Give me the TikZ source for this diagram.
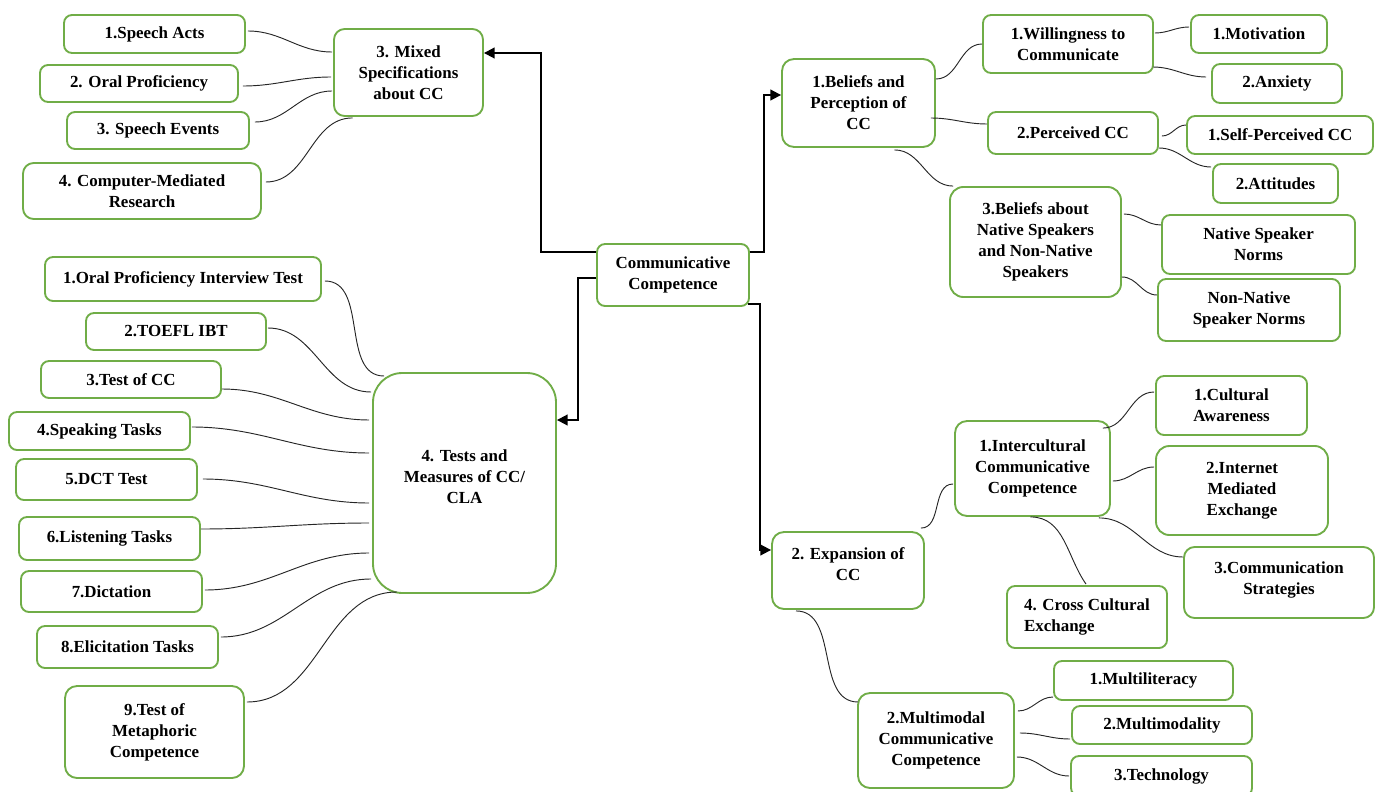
\documentclass[tikz,border=0pt]{standalone}
\usepackage{fontspec}
\setmainfont{Liberation Serif}
\usetikzlibrary{calc,arrows.meta}
\definecolor{bgreen}{RGB}{112,173,71}
\tikzset{
  box/.style={draw=bgreen, line width=1.4pt, rounded corners=6pt, fill=white, align=center, inner sep=0pt,
    font=\bfseries\fontsize{12.7}{15.75}\selectfont},
  sz/.style 2 args={minimum width=#1*0.75pt, minimum height=#2*0.75pt},
  con/.style={draw=black!85, line width=0.7pt},
  arr/.style={draw=black, line width=1.4pt, -{Triangle[length=8pt,width=8pt]}},
}
\begin{document}
\begin{tikzpicture}[x=0.75pt,y=-0.75pt]
\useasboundingbox (0,0) rectangle (1386,792);
% ---- centre
\node[box,sz={152}{62}] (cc) at (673,275) {Communicative\\Competence};
% ---- mixed specifications
\node[box,sz={149}{87},rounded corners=8pt] (mix) at (408.5,72.5) {3. Mixed\\Specifications\\about CC};
\node[box,sz={181}{38}] (sa) at (154.5,34) {1.Speech Acts};
\node[box,sz={198}{37}] (op) at (139,83.5) {2. Oral Proficiency};
\node[box,sz={182}{37}] (se) at (158,130.5) {3. Speech Events};
\node[box,sz={238}{56},rounded corners=8pt] (cm) at (142,191) {4. Computer-Mediated\\Research};
% ---- tests
\node[box,sz={183}{220},rounded corners=22pt] (tests) at (464.5,483) {4. Tests and\\Measures of CC/\\CLA\\[-6pt]};
\node[box,sz={276}{44}] (t1) at (183,279) {1.Oral Proficiency Interview Test};
\node[box,sz={180}{37}] (t2) at (176,331.5) {2.TOEFL IBT};
\node[box,sz={180}{37}] (t3) at (131,379.5) {3.Test of CC};
\node[box,sz={181}{38}] (t4) at (99.5,431) {4.Speaking Tasks};
\node[box,sz={181}{41}] (t5) at (106.5,479.5) {5.DCT Test};
\node[box,sz={181}{43}] (t6) at (109.5,538.5) {6.Listening Tasks};
\node[box,sz={181}{41}] (t7) at (111.5,591.5) {7.Dictation};
\node[box,sz={181}{42}] (t8) at (127.5,647) {8.Elicitation Tasks};
\node[box,sz={179}{92},rounded corners=9pt] (t9) at (154.5,732) {9.Test of\\Metaphoric\\Competence};
% ---- beliefs
\node[box,sz={153}{88},rounded corners=9pt] (bel) at (858.5,103) {1.Beliefs and\\Perception of\\CC};
\node[box,sz={170}{58}] (wil) at (1068,44) {1.Willingness to\\Communicate};
\node[box,sz={136}{38}] (mot) at (1259,34) {1.Motivation};
\node[box,sz={130}{39}] (anx) at (1277,83.5) {2.Anxiety};
\node[box,sz={170}{42}] (per) at (1073,133) {2.Perceived CC};
\node[box,sz={186}{38}] (spc) at (1280,135) {1.Self-Perceived CC};
\node[box,sz={125}{39}] (att) at (1275.5,183.5) {2.Attitudes};
\node[box,sz={171}{110},rounded corners=10pt] (bab) at (1035.5,242) {3.Beliefs about\\Native Speakers\\and Non-Native\\Speakers};
\node[box,sz={193}{59}] (nsn) at (1258.5,244.5) {Native Speaker\\Norms};
\node[box,sz={182}{62}] (nnn) at (1249,310) {Non-Native\\Speaker Norms};
% ---- expansion
\node[box,sz={152}{77},rounded corners=9pt] (exp) at (848,570.5) {2. Expansion of\\CC\\[-6.75pt]};
\node[box,sz={155}{95},rounded corners=9pt] (ic) at (1032.5,468.5) {1.Intercultural\\Communicative\\Competence};
\node[box,sz={151}{59}] (ca) at (1231.5,405.5) {1.Cultural\\Awareness};
\node[box,sz={172}{89},rounded corners=10pt] (ime) at (1242,490.5) {2.Internet\\Mediated\\Exchange};
\node[box,sz={190}{71},rounded corners=8pt] (cs) at (1279,582.5) {3.Communication\\Strategies\\[-9.75pt]};
\node[box,sz={160}{62},align=left] (cce) at (1087,617) {4. Cross Cultural\\Exchange};
\node[box,sz={156}{95},rounded corners=9pt] (mm) at (936,740.5) {2.Multimodal\\Communicative\\Competence};
\node[box,sz={179}{39}] (ml) at (1143.5,680.5) {1.Multiliteracy};
\node[box,sz={180}{38}] (mmy) at (1162,725) {2.Multimodality};
\node[box,sz={181}{40}] (tech) at (1161.5,776) {3.Technology};
% ---- arrows from centre
\draw[arr] ($(cc.west)+(0,-23)$) -| ($(mix.east)+(57,-19.5)$) -- ($(mix.east)+(0,-19.5)$);
\draw[arr] ($(cc.west)+(0,3)$) -| ($(tests.east)+(21,-63)$) -- ($(tests.east)+(0,-63)$);
\draw[arr] ($(cc.east)+(0,-23)$) -| ($(bel.west)+(-17,-8)$) -- ($(bel.west)+(0,-8)$);
\draw[arr] ($(cc.east)+(-2,29)$) -| ($(exp.west)+(-11,-20.5)$) -- ($(exp.west)+(0,-20.5)$);
% ---- mixed connectors
\draw[con] ($(sa.east)+(2,-3)$) to[out=0,in=180] ($(mix.west)+(-1,-20.5)$);
\draw[con] ($(op.east)+(4,2.5)$) to[out=0,in=180] ($(mix.west)+(-2,4.5)$);
\draw[con] ($(se.east)+(5,-8.5)$) to[out=0,in=180] ($(mix.west)+(-1,18.5)$);
\draw[con] ($(cm.east)+(4,-9)$) to[out=0,in=180] ($(mix.south)+(-56,1)$);
% ---- tests connectors
\draw[con] ($(t1.east)+(3,2)$) to[out=0,in=180] ($(tests.west)+(12,-107)$);
\draw[con] ($(t2.east)+(1,-3.5)$) to[out=0,in=180] ($(tests.west)+(-1,-91)$);
\draw[con] ($(t3.east)+(0,9.5)$) to[out=0,in=180] ($(tests.west)+(-3,-63)$);
\draw[con] ($(t4.east)+(1,-4)$) to[out=0,in=180] ($(tests.west)+(-3,-30)$);
\draw[con] ($(t5.east)+(5,-0.5)$) to[out=0,in=180] ($(tests.west)+(-3,20)$);
\draw[con] ($(t6.east)+(0,-9.5)$) to[out=0,in=180] ($(tests.west)+(-3,40)$);
\draw[con] ($(t7.east)+(2,-1.5)$) to[out=0,in=180] ($(tests.west)+(-3,70)$);
\draw[con] ($(t8.east)+(2,-10)$) to[out=0,in=180] ($(tests.west)+(-1,96)$);
\draw[con] ($(t9.east)+(2,-30)$) to[out=0,in=180] ($(tests.west)+(25,109)$);
% ---- beliefs connectors
\draw[con] ($(bel.east)+(0,-24)$) to[out=0,in=180] (wil.west);
\draw[con] ($(bel.east)+(-5,15)$) to[out=0,in=180] ($(per.west)+(0,-9)$);
\draw[con] ($(bel.south)+(36,2)$) to[out=0,in=180] ($(bab.north west)+(4,0)$);
\draw[con] ($(wil.east)+(1,-11)$) to[out=0,in=180] ($(mot.west)+(-1,-7)$);
\draw[con] ($(wil.east)+(-1,23)$) to[out=0,in=180] ($(anx.west)+(-5,-6.5)$);
\draw[con] ($(per.east)+(3,3)$) to[out=0,in=180] ($(spc.west)+(0,-10)$);
\draw[con] ($(per.east)+(0,15)$) to[out=0,in=180] ($(att.west)+(-1,-16.5)$);
\draw[con] ($(bab.east)+(2,-28)$) to[out=0,in=180] ($(nsn.west)+(0,-19.5)$);
\draw[con] ($(bab.east)+(0,35)$) to[out=0,in=180] ($(nnn.west)+(0,-15)$);
% ---- expansion connectors
\draw[con] ($(exp.north east)+(-4,-3)$) to[out=0,in=180] ($(ic.west)+(-1,15.5)$);
\draw[con] ($(exp.south)+(-52,1)$) to[out=0,in=180] ($(mm.west)+(1,-38.5)$);
\draw[con] ($(ic.north east)+(-8,8)$) to[out=0,in=180] ($(ca.west)+(-1,-13.5)$);
\draw[con] ($(ic.east)+(2,12.5)$) to[out=0,in=180] ($(ime.west)+(-1,-23.5)$);
\draw[con] ($(ic.south east)+(-12,1)$) to[out=0,in=180] ($(cs.west)+(0,-25.5)$);
\draw[con] ($(ic.south)+(-2,0)$) to[out=0,in=125] ($(cce.north)+(-1,-1)$);
\draw[con] ($(mm.east)+(3,-29.5)$) to[out=0,in=180] ($(ml.west)+(0,16.5)$);
\draw[con] ($(mm.east)+(5,-7.5)$) to[out=0,in=180] ($(mmy.west)+(-1,14)$);
\draw[con] ($(mm.east)+(2,16.5)$) to[out=0,in=180] ($(tech.west)+(-1,0)$);
\end{tikzpicture}
\end{document}
